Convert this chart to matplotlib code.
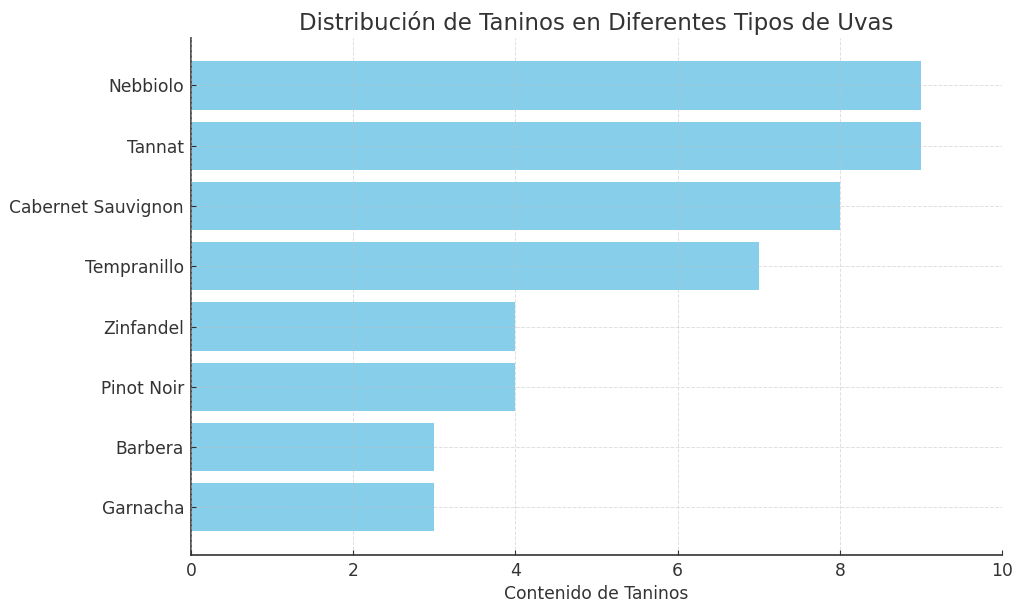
import matplotlib
matplotlib.use("Agg")
import matplotlib.pyplot as plt

grapes = ["Garnacha", "Barbera", "Pinot Noir", "Zinfandel", "Tempranillo",
          "Cabernet Sauvignon", "Tannat", "Nebbiolo"]
tannins = [3, 3, 4, 4, 7, 8, 9, 9]

plt.rcParams["font.family"] = "DejaVu Sans"
plt.rcParams["text.color"] = "#333333"
plt.rcParams["axes.labelcolor"] = "#333333"
plt.rcParams["xtick.color"] = "#333333"
plt.rcParams["ytick.color"] = "#333333"

fig = plt.figure(figsize=(10.24, 6.11), dpi=100)
ax = fig.add_axes([0.1865, 0.0917, 0.792, 0.8463])

ax.barh(grapes, tannins, color="skyblue", height=0.8)
ax.set_xlim(0, 10)
ax.set_xlabel("Contenido de Taninos", fontsize=12.3, labelpad=4)
ax.set_title("Distribución de Taninos en Diferentes Tipos de Uvas", fontsize=16.5, pad=6)
ax.set_axisbelow(False)
ax.grid(True, linestyle="--", linewidth=0.7, color="#c0c0c0", alpha=0.5)
ax.spines["top"].set_visible(False)
ax.spines["right"].set_visible(False)
for s in ("left", "bottom"):
    ax.spines[s].set_color("#333333")
    ax.spines[s].set_linewidth(1.2)
ax.tick_params(labelsize=12.3, direction="in", pad=5)

fig.savefig("out.png", dpi=100)
